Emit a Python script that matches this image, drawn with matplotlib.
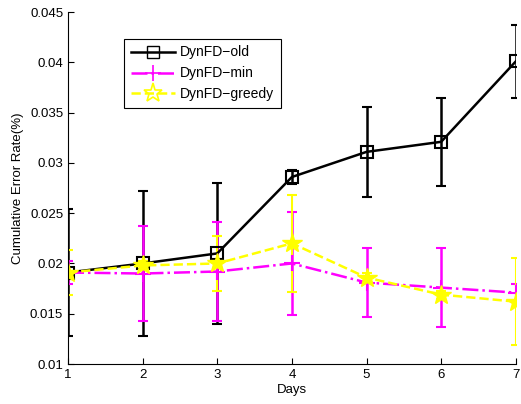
import matplotlib
matplotlib.use("Agg")
import matplotlib.pyplot as plt
from matplotlib.lines import Line2D

days = [1, 2, 3, 4, 5, 6, 7]
old_mean = [0.0191, 0.0200, 0.0210, 0.0286, 0.0311, 0.0321, 0.0401]
old_err = [0.0063, 0.0072, 0.0070, 0.0007, 0.0045, 0.0044, 0.0036]
min_mean = [0.0191, 0.0190, 0.0192, 0.0200, 0.0181, 0.0176, 0.0171]
min_err = [0.0011, 0.0047, 0.0049, 0.0051, 0.0034, 0.0039, 0.0009]
greedy_mean = [0.0191, 0.0198, 0.0200, 0.0220, 0.0186, 0.0169, 0.0162]
greedy_err = [0.0022, 0.0004, 0.0027, 0.0048, 0.0005, 0.0004, 0.0043]
labels = ['DynFD\u2212old', 'DynFD\u2212min', 'DynFD\u2212greedy']

plt.rcParams['font.family'] = ['Liberation Sans', 'DejaVu Sans']
fig = plt.figure(figsize=(5.21, 4.04), dpi=100)
ax = fig.add_axes([0.1305, 0.099, 0.8595, 0.871])

ax.errorbar(days, old_mean, yerr=old_err, color='black', lw=1.8, ls='-',
            marker='s', ms=8, mfc='none', mec='black', mew=1.5,
            capsize=3.5, elinewidth=1.8, capthick=1.8)
ax.errorbar(days, min_mean, yerr=min_err, color='#ff00ff', lw=1.8, ls='-.',
            marker='+', ms=12, mew=1.5,
            capsize=3.5, elinewidth=1.8, capthick=1.8)
ax.errorbar(days, greedy_mean, yerr=greedy_err, color='#ffff00', lw=1.8, ls='--',
            marker='*', ms=15, mec='#ffff00', mfc='#ffff00',
            capsize=3.5, elinewidth=1.5, capthick=1.5)

ax.set_xlim(1, 7)
ax.set_ylim(0.01, 0.045)
ax.set_xticks(days)
ax.set_yticks([0.01, 0.015, 0.02, 0.025, 0.03, 0.035, 0.04, 0.045])
ax.set_yticklabels(['0.01', '0.015', '0.02', '0.025', '0.03', '0.035', '0.04', '0.045'])
ax.tick_params(direction='in', labelsize=9.5, length=4)
ax.spines['top'].set_visible(False)
ax.spines['right'].set_visible(False)
ax.set_xlabel('Days', fontsize=9.5, labelpad=2)
ax.set_ylabel('Cumulative Error Rate(%)', fontsize=9.5, labelpad=4)

handles = [
    Line2D([], [], color='black', lw=1.8, ls='-', marker='s', ms=8,
           mfc='none', mec='black', mew=1.0),
    Line2D([], [], color='#ff00ff', lw=1.8, ls='-.', marker='+', ms=12, mew=1.2),
    Line2D([], [], color='#ffff00', lw=1.8, ls='--', marker='*', ms=14,
           mfc='none', mec='#ffff00', mew=1.2),
]
leg = ax.legend(handles, labels, loc='upper left', bbox_to_anchor=(0.125, 0.925),
                fontsize=10, fancybox=False, edgecolor='black', framealpha=1,
                handlelength=3.2, handletextpad=0.3, borderpad=0.5,
                labelspacing=0.5, borderaxespad=0)
leg.get_frame().set_linewidth(0.8)

fig.savefig('out.png', dpi=100)
